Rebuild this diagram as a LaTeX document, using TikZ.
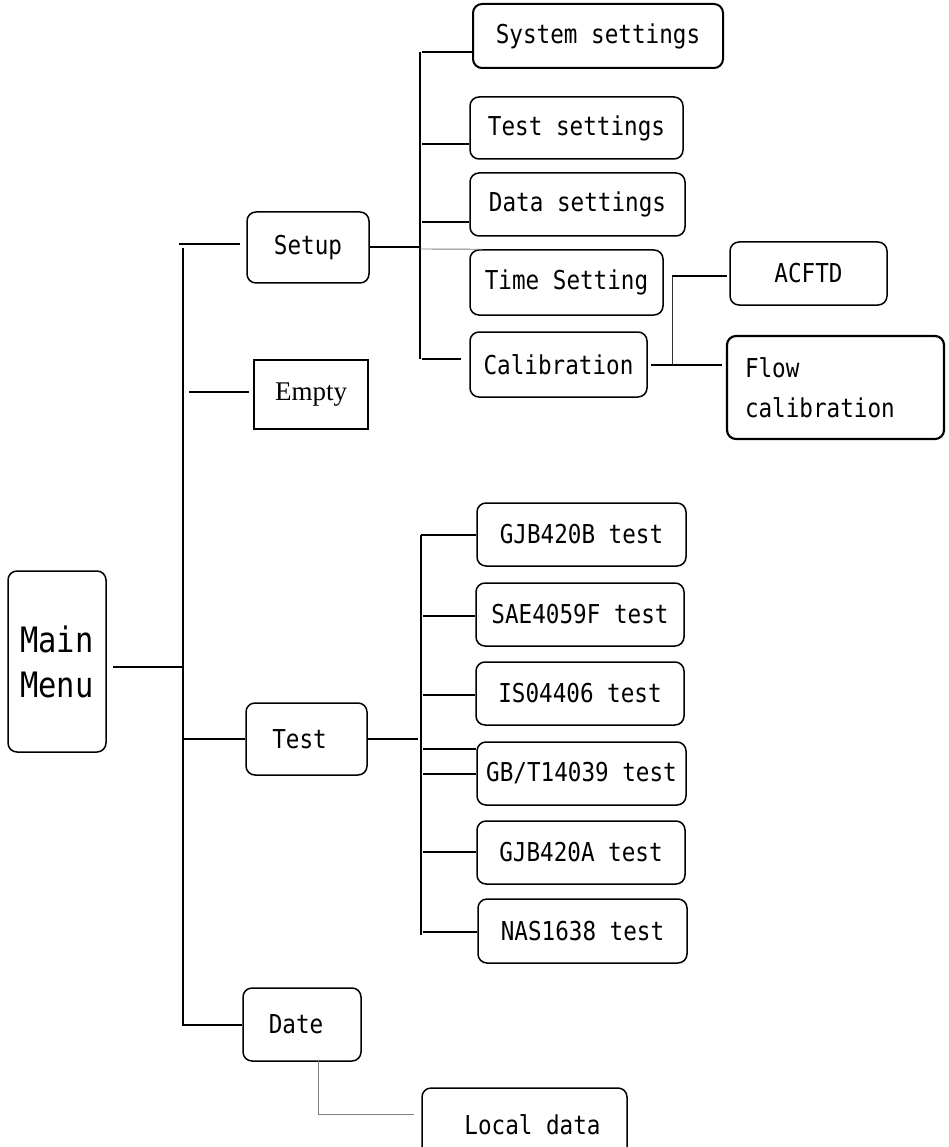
\documentclass[tikz,border=0pt]{standalone}
\usepackage{fontspec}
\newfontfamily\monofnt[FakeStretch=0.87]{DejaVu Sans Mono}
\newfontfamily\seriffnt{Liberation Serif}
\begin{document}
\begin{tikzpicture}[x=1pt,y=-1pt,
  box/.style={draw, line width=1.5pt, rounded corners=9pt, inner sep=0pt,
     font=\monofnt\fontsize{26}{30}\selectfont},
  sharpbox/.style={draw, line width=1.5pt, inner sep=0pt,
     font=\seriffnt\fontsize{27}{30}\selectfont},
  conn/.style={line width=1.5pt},
  thinconn/.style={line width=0.9pt, gray}
]
\useasboundingbox (0,0) rectangle (949,1147);
\clip (0,0) rectangle (949,1147);

% level 0 and 1
\node[box, minimum width=98pt, minimum height=181pt, align=center,
      font=\monofnt\fontsize{35}{45}\selectfont] (mm) at (57,661.5) {Main\\Menu};
\node[box, minimum width=122pt, minimum height=71pt] (setup) at (308,247.5) {Setup};
\node[sharpbox, minimum width=114pt, minimum height=69pt] (empty) at (311,394.5) {Empty};
\node[box, minimum width=121pt, minimum height=72pt] (test) at (306.5,739) {\hspace*{-14pt}Test};
\node[box, minimum width=118pt, minimum height=73pt] (date) at (302,1024.5) {\hspace*{-12pt}Date};

% setup children
\node[box, line width=2pt, minimum width=250pt, minimum height=64pt] (sys) at (598,36) {System settings};
\node[box, minimum width=213pt, minimum height=62pt] (tset) at (576.5,128) {Test settings};
\node[box, minimum width=215pt, minimum height=63pt] (dset) at (577.5,204.5) {Data settings};
\node[box, minimum width=193pt, minimum height=65pt] (time) at (566.5,282.5) {Time Setting};
\node[box, minimum width=177pt, minimum height=65pt] (calib) at (558.5,364.5) {Calibration};
\node[box, minimum width=157pt, minimum height=63pt] (acftd) at (808.5,273.5) {ACFTD};
\node[box, line width=2.2pt, minimum width=217pt, minimum height=103pt,
      text width=181pt, align=left, font=\monofnt\fontsize{26}{40}\selectfont] (flow) at (835.5,387.5) {Flow\\calibration};

% test children
\node[box, minimum width=209pt, minimum height=63pt] (t1) at (581.5,534.5) {GJB420B test};
\node[box, minimum width=208pt, minimum height=63pt] (t2) at (580,614.5) {SAE4059F test};
\node[box, minimum width=208pt, minimum height=63pt] (t3) at (580,693.5) {IS04406 test};
\node[box, minimum width=209pt, minimum height=63pt] (t4) at (581.5,773.5) {GB/T14039 test};
\node[box, minimum width=208pt, minimum height=63pt] (t5) at (581,852.5) {GJB420A test};
\node[box, minimum width=209pt, minimum height=64pt] (t6) at (582.5,931) {NAS1638 test};

% date child
\node[box, minimum width=205pt, minimum height=74pt] (local) at (524.5,1125) {\hspace*{16pt}Local data};

% main trunk
\coordinate (tTop) at (183,248);
\coordinate (tBot) at (183,1026);
\draw[conn] (tTop) -- (tBot);
\coordinate (jm) at (183,667);
\draw[conn, shorten >=6pt] (jm) -- (jm -| mm.east);
\coordinate (js) at (179,244);
\draw[conn, shorten >=6pt] (js) -- (js -| setup.west);
\coordinate (je) at (189,392);
\draw[conn, shorten >=4pt] (je) -- (je -| empty.west);
\coordinate (jt) at (183,739);
\draw[conn] (jt) -- (jt -| test.west);
\coordinate (jd) at (183,1025);
\draw[conn] (jd) -- (jd -| date.west);

% setup subtree
\coordinate (sTop) at (420,52);
\coordinate (sBot) at (420,359);
\draw[line width=1.1pt] (sTop) -- (sBot);
\coordinate (ss) at (420,247);
\draw[conn] (ss -| setup.east) -- (ss);
\coordinate (s1) at (422,52);
\draw[conn] (s1) -- (s1 -| sys.west);
\coordinate (s2) at (422,144);
\draw[conn] (s2) -- (s2 -| tset.west);
\coordinate (s3) at (422,222);
\draw[conn] (s3) -- (s3 -| dset.west);
\coordinate (s4) at (420,249);
\draw[thinconn] (s4) -- ([xshift=13pt]time.north west);
\coordinate (s5) at (422,359);
\draw[conn, shorten >=8pt] (s5) -- (s5 -| calib.west);

% calibration subtree
\draw[line width=2pt, shorten <=3pt, shorten >=4pt] (calib.east) -- (calib.east -| flow.west);
\coordinate (cTop) at (672,277);
\coordinate (cBot) at (672,365);
\draw[line width=1pt, black!80] (cTop) -- (cBot);
\coordinate (c1) at (672,276);
\draw[conn, shorten >=2pt] (c1) -- (c1 -| acftd.west);

% test subtree
\coordinate (vTop) at (421,535);
\coordinate (vBot) at (421,935);
\draw[conn] (vTop) -- (vBot);
\coordinate (tt) at (418,739);
\draw[conn] (tt -| test.east) -- (tt);
\coordinate (b1) at (421,535);
\draw[conn] (b1) -- (b1 -| t1.west);
\coordinate (b2) at (423,616);
\draw[conn] (b2) -- (b2 -| t2.west);
\coordinate (b3) at (423,695);
\draw[conn] (b3) -- (b3 -| t3.west);
\coordinate (b4) at (423,749);
\draw[conn] (b4) -- (b4 -| t4.west);
\coordinate (b5) at (423,774);
\draw[conn] (b5) -- (b5 -| t4.west);
\coordinate (b6) at (423,852);
\draw[conn] (b6) -- (b6 -| t5.west);
\coordinate (b7) at (423,932);
\draw[conn] (b7) -- (b7 -| t6.west);

% date subtree
\coordinate (d1) at (318,1061);
\coordinate (d2) at (318,1114);
\draw[thinconn] (d1) -- (d2) -- ([xshift=-7pt]d2 -| local.west);
\end{tikzpicture}
\end{document}
